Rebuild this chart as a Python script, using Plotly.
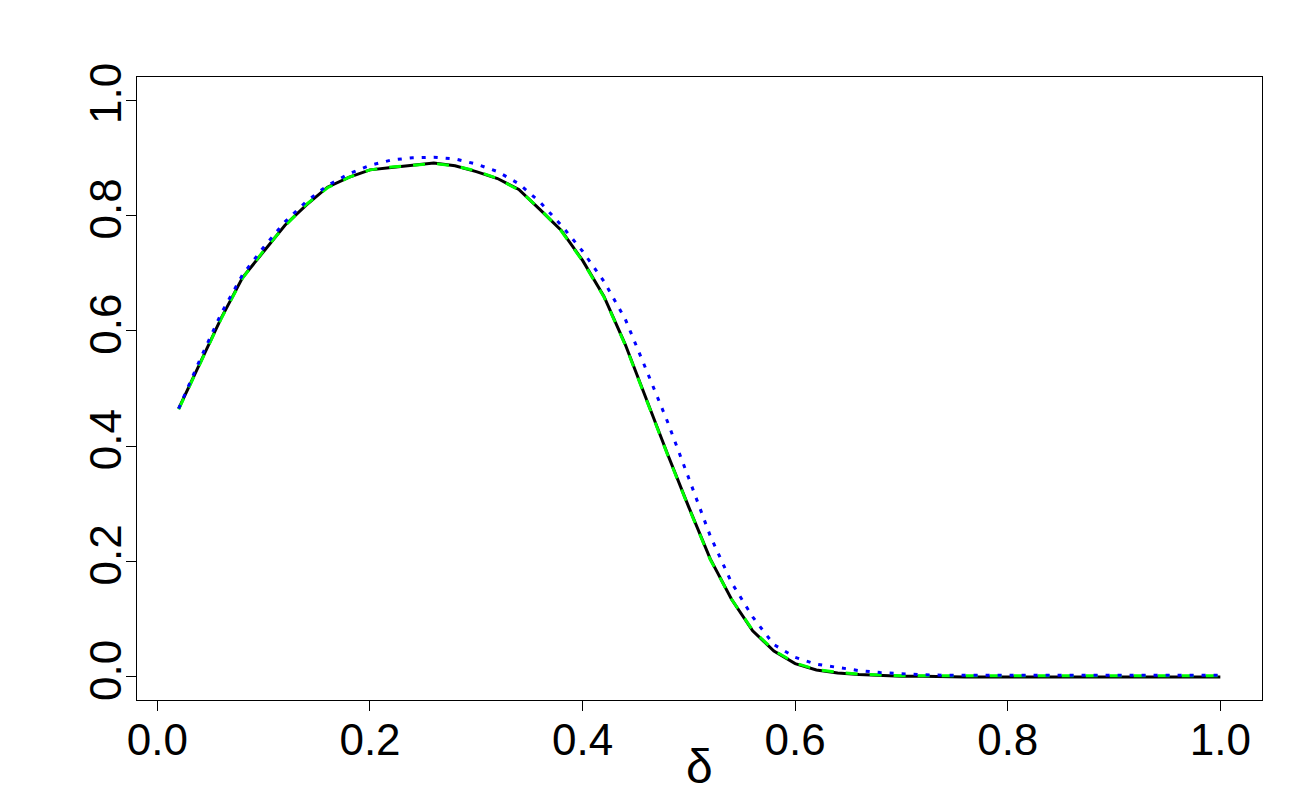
import plotly.graph_objects as go

delta = [0.02, 0.04, 0.06, 0.08, 0.10, 0.12, 0.14, 0.16, 0.18, 0.20,
         0.22, 0.24, 0.26, 0.28, 0.30, 0.32, 0.34, 0.36, 0.38, 0.40,
         0.42, 0.44, 0.46, 0.48, 0.50, 0.52, 0.54, 0.56, 0.58, 0.60,
         0.62, 0.64, 0.66, 0.68, 0.70, 0.72, 0.74, 0.76, 0.78, 0.80,
         0.82, 0.84, 0.86, 0.88, 0.90, 0.92, 0.94, 0.96, 0.98, 1.00]

black_sim = [0.465, 0.545, 0.622, 0.692, 0.738, 0.783, 0.818, 0.849, 0.866, 0.879,
             0.883, 0.887, 0.891, 0.886, 0.876, 0.864, 0.845, 0.810, 0.774, 0.722,
             0.660, 0.577, 0.480, 0.386, 0.294, 0.205, 0.135, 0.080, 0.045, 0.023,
             0.012, 0.007, 0.004, 0.002, 0.001, 0.001, 0.0, 0.0, 0.0, 0.0,
             0.0, 0.0, 0.0, 0.0, 0.0, 0.0, 0.0, 0.0, 0.0, 0.0]

green_sim = [0.464, 0.544, 0.621, 0.691, 0.739, 0.782, 0.819, 0.848, 0.866, 0.879,
             0.884, 0.887, 0.890, 0.886, 0.877, 0.864, 0.844, 0.811, 0.773, 0.721,
             0.659, 0.576, 0.479, 0.385, 0.293, 0.204, 0.135, 0.081, 0.046, 0.024,
             0.013, 0.008, 0.005, 0.003, 0.002, 0.002, 0.002, 0.002, 0.002, 0.002,
             0.002, 0.002, 0.002, 0.002, 0.002, 0.002, 0.002, 0.002, 0.002, 0.002]

blue_theory = [0.465, 0.550, 0.630, 0.697, 0.745, 0.789, 0.824, 0.852, 0.872, 0.887,
               0.896, 0.900, 0.901, 0.898, 0.889, 0.876, 0.855, 0.823, 0.783, 0.738,
               0.686, 0.621, 0.532, 0.442, 0.344, 0.245, 0.164, 0.104, 0.056, 0.034,
               0.022, 0.016, 0.011, 0.0075, 0.005, 0.0038, 0.003, 0.003, 0.003, 0.003,
               0.003, 0.003, 0.003, 0.003, 0.003, 0.003, 0.003, 0.003, 0.003, 0.003]

x_ticks = [0.0, 0.2, 0.4, 0.6, 0.8, 1.0]
x_ticktext = ["0.0", "0.2", "0.4", "0.6", "0.8", "1.0"]
y_ticks = [0.0, 0.2, 0.4, 0.6, 0.8, 1.0]
y_ticktext = ["0.0", "0.2", "0.4", "0.6", "0.8", "1.0"]
x_title = "δ"

FONT = "Liberation Sans, Arial, sans-serif"

fig = go.Figure()
fig.add_trace(go.Scatter(x=delta, y=black_sim, mode="lines",
                         line=dict(color="#000000", width=3), showlegend=False))
fig.add_trace(go.Scatter(x=delta, y=green_sim, mode="lines",
                         line=dict(color="#00FF00", width=3, dash="12px,12px"), showlegend=False))
fig.add_trace(go.Scatter(x=delta, y=blue_theory, mode="lines",
                         line=dict(color="#0000FF", width=3, dash="4px,8px"), showlegend=False))

axis_common = dict(
    showgrid=False, zeroline=False, showline=True, mirror=True,
    linecolor="#000000", linewidth=1,
    ticks="outside", ticklen=10, tickwidth=1, tickcolor="#000000",
    tickfont=dict(family=FONT, size=44, color="#000000"),
    automargin=False,
)

fig.update_layout(
    width=1300, height=800,
    margin=dict(l=129, r=46, t=69, b=108),
    paper_bgcolor="white", plot_bgcolor="white",
    xaxis=dict(range=[-0.0192, 1.0392], tickvals=x_ticks, ticktext=x_ticktext,
               ticklabelstandoff=-9, **axis_common),
    yaxis=dict(range=[-0.04, 1.04], tickvals=y_ticks, ticktext=y_ticktext,
               tickangle=-90, ticklabelstandoff=-13, **axis_common),
)

fig.add_annotation(text=x_title, xref="paper", yref="paper", x=0.5, y=-0.106,
                   xanchor="center", yanchor="middle", showarrow=False,
                   font=dict(family=FONT, size=48, color="#000000"))

fig.write_html("out.html")
